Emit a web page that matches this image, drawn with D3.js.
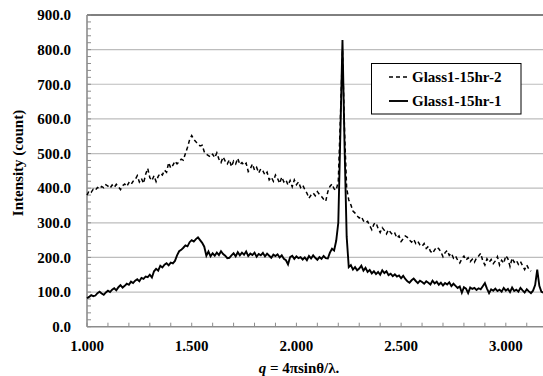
<!DOCTYPE html>
<html>
<head>
<meta charset="utf-8">
<script src="https://cdn.jsdelivr.net/npm/d3@7"></script>
<style>
  body { margin: 0; background: #fff; }
  svg { display: block; }
</style>
</head>
<body>
<div id="chart"></div>
<script>
// sampling grid for q (step 0.01 starting at 1.00)
var qStart = 1.00;
var qStep = 0.01;

// Glass1-15hr-1 (solid), q = 1.00 .. 3.19
var run1 = [
  82, 86, 91, 88, 90, 97, 101, 96, 92, 99,
  104, 100, 107, 111, 105, 114, 120, 113, 118, 124,
  121, 130, 126, 133, 137, 131, 141, 138, 145, 143,
  150, 142, 160, 167, 162, 176, 171, 179, 183, 177,
  185, 183, 190, 206, 218, 222, 228, 235, 232, 244,
  250, 246, 253, 258, 250, 242, 231, 205, 217, 203,
  212, 205, 214, 207, 218, 210, 205, 198, 199, 206,
  212, 203, 215, 206, 214, 208, 217, 204, 211, 207,
  214, 202, 210, 206, 213, 203, 211, 205, 199, 208,
  204, 209, 200, 206, 196, 192, 180, 201, 205, 196,
  203, 198, 201, 194, 200, 192, 204, 197, 206, 199,
  193, 201, 196, 204, 198, 197, 214, 225, 220, 248,
  300, 560, 828, 520, 260, 172, 178, 165, 172, 163,
  168, 176, 162, 170, 158, 164, 154, 160, 152, 158,
  150, 163, 155, 160, 149, 153, 146, 151, 145, 148,
  140, 147, 138, 131, 127, 134, 139, 132, 126, 133,
  129, 124, 131, 127, 122, 133, 125, 130, 121, 127,
  119, 126, 122, 128, 117, 124, 118, 112, 116, 98,
  114, 110, 97, 113, 109, 112, 106, 111, 108, 117,
  126, 110, 97, 108, 104, 110, 103, 107, 101, 112,
  104, 109, 100, 113, 103, 107, 101, 112, 105, 99,
  108, 102, 97, 104, 120, 165, 118, 101, 98, 104
];

// Glass1-15hr-2 (dashed), q = 1.00 .. 3.12
var run2 = [
  380, 392, 388, 397, 394, 402, 398, 405, 401, 410,
  406, 400, 409, 402, 411, 404, 396, 407, 412, 405,
  416, 410, 420, 424, 436, 418, 428, 414, 440, 457,
  430, 422, 436, 419, 434, 443, 438, 452, 446, 474,
  458, 466, 478, 470, 476, 484, 481, 500, 518, 540,
  552, 541, 534, 528, 522, 524, 505, 498, 494, 490,
  498, 488, 502, 484, 474, 490, 478, 470, 482, 462,
  478, 470, 486, 468, 474, 466, 472, 448, 456, 470,
  452, 460, 444, 456, 450, 438, 446, 424, 432, 420,
  438, 428, 414, 432, 418, 424, 409, 422, 404, 424,
  410, 418, 402, 409, 396, 386, 371, 380, 386, 378,
  390, 382, 376, 368, 362, 390, 405, 412, 398, 394,
  420, 600, 800, 560, 400, 366, 352, 334, 328, 320,
  314, 318, 306, 300, 304, 292, 280, 296, 300, 284,
  272, 286, 278, 268, 280, 272, 265, 270, 256, 262,
  246, 254, 262, 258, 250, 244, 252, 240, 246, 236,
  232, 240, 226, 232, 218, 212, 222, 230, 225, 216,
  202, 214, 220, 206, 212, 198, 204, 192, 184, 196,
  204, 192, 199, 188, 195, 186, 198, 204, 212, 190,
  178, 196, 186, 194, 182, 190, 202, 178, 192, 183,
  205, 196, 174, 198, 186, 192, 180, 188, 176, 165,
  178, 166, 160
];

var seriesNames = ["Glass1-15hr-2", "Glass1-15hr-1"];
var yTicks = [0, 100, 200, 300, 400, 500, 600, 700, 800, 900];
var xTicks = [1.0, 1.5, 2.0, 2.5, 3.0];

var width = 543, height = 376;
var plotLeft = 87, plotTop = 15, plotBottom = 326.7;
var plotRight = 547.7; // axis runs to 3.2, just past the window edge
var serif = "'Liberation Serif', 'Times New Roman', 'DejaVu Serif', serif";

var x = d3.scaleLinear().domain([1.0, 3.2]).range([plotLeft, plotRight]);
var y = d3.scaleLinear().domain([0, 900]).range([plotBottom, plotTop]);

var svg = d3.select("#chart").append("svg")
  .attr("width", width)
  .attr("height", height)
  .style("font-family", serif)
  .style("font-weight", "bold");

// horizontal gridlines
svg.append("g").selectAll("line")
  .data(yTicks.slice(1, -1))
  .enter().append("line")
    .attr("x1", plotLeft).attr("x2", width)
    .attr("y1", function(d) { return y(d); })
    .attr("y2", function(d) { return y(d); })
    .attr("stroke", "#bdbdbd")
    .attr("stroke-width", 1.2);

// top border
svg.append("line")
  .attr("x1", plotLeft).attr("x2", width)
  .attr("y1", y(900)).attr("y2", y(900))
  .attr("stroke", "#000").attr("stroke-width", 1);

// minor ticks, inside the plot
svg.append("g").selectAll("line")
  .data(d3.range(0, 901, 20))
  .enter().append("line")
    .attr("x1", plotLeft).attr("x2", plotLeft + 4)
    .attr("y1", function(d) { return y(d); })
    .attr("y2", function(d) { return y(d); })
    .attr("stroke", "#8c8c8c");

svg.append("g").selectAll("line")
  .data(d3.range(10, 33).map(function(d) { return d / 10; }))
  .enter().append("line")
    .attr("x1", function(d) { return x(d); })
    .attr("x2", function(d) { return x(d); })
    .attr("y1", plotBottom).attr("y2", plotBottom - 4)
    .attr("stroke", "#8c8c8c");

// axis lines
svg.append("line")
  .attr("x1", plotLeft).attr("x2", plotLeft)
  .attr("y1", plotTop).attr("y2", plotBottom)
  .attr("stroke", "#8c8c8c").attr("stroke-width", 1.6);
svg.append("line")
  .attr("x1", plotLeft).attr("x2", width)
  .attr("y1", plotBottom).attr("y2", plotBottom)
  .attr("stroke", "#8c8c8c").attr("stroke-width", 1.6);

// tick labels
svg.append("g").selectAll("text")
  .data(yTicks)
  .enter().append("text")
    .attr("x", 71)
    .attr("y", function(d) { return y(d); })
    .attr("dy", "0.35em")
    .attr("text-anchor", "end")
    .style("font-size", "15px")
    .text(function(d) { return d3.format(".1f")(d); });

svg.append("g").selectAll("text")
  .data(xTicks)
  .enter().append("text")
    .attr("x", function(d) { return x(d); })
    .attr("y", 351)
    .attr("text-anchor", "middle")
    .style("font-size", "15px")
    .text(function(d) { return d3.format(".3f")(d); });

// axis titles
svg.append("text")
  .attr("transform", "translate(23,163) rotate(-90)")
  .attr("text-anchor", "middle")
  .style("font-size", "15px")
  .text("Intensity (count)");

var xt = svg.append("text")
  .attr("x", 299).attr("y", 373)
  .attr("text-anchor", "middle")
  .style("font-size", "15px");
xt.append("tspan").style("font-style", "italic").text("q");
xt.append("tspan").text(" = 4\u03c0sin\u03b8/\u03bb.");

// lines
var line = d3.line()
  .x(function(d, i) { return x(qStart + i * qStep); })
  .y(function(d) { return y(d); });

svg.append("path")
  .datum(run2)
  .attr("d", line)
  .attr("fill", "none")
  .attr("stroke", "#000")
  .attr("stroke-width", 1.5)
  .attr("stroke-dasharray", "4,3");

svg.append("path")
  .datum(run1)
  .attr("d", line)
  .attr("fill", "none")
  .attr("stroke", "#000")
  .attr("stroke-width", 1.9);

// legend
var legend = svg.append("g");
legend.append("rect")
  .attr("x", 371.5).attr("y", 63.5)
  .attr("width", 149.5).attr("height", 50.5)
  .attr("fill", "#fff")
  .attr("stroke", "#000");

seriesNames.forEach(function(name, i) {
  var ly = 77 + i * 24;
  legend.append("line")
    .attr("x1", 389).attr("x2", 408)
    .attr("y1", ly).attr("y2", ly)
    .attr("stroke", "#000")
    .attr("stroke-width", i == 0 ? 1.5 : 1.9)
    .attr("stroke-dasharray", i == 0 ? "4,3" : null);
  legend.append("text")
    .attr("x", 412).attr("y", ly)
    .attr("dy", "0.35em")
    .style("font-size", "15px")
    .text(name);
});
</script>
</body>
</html>
